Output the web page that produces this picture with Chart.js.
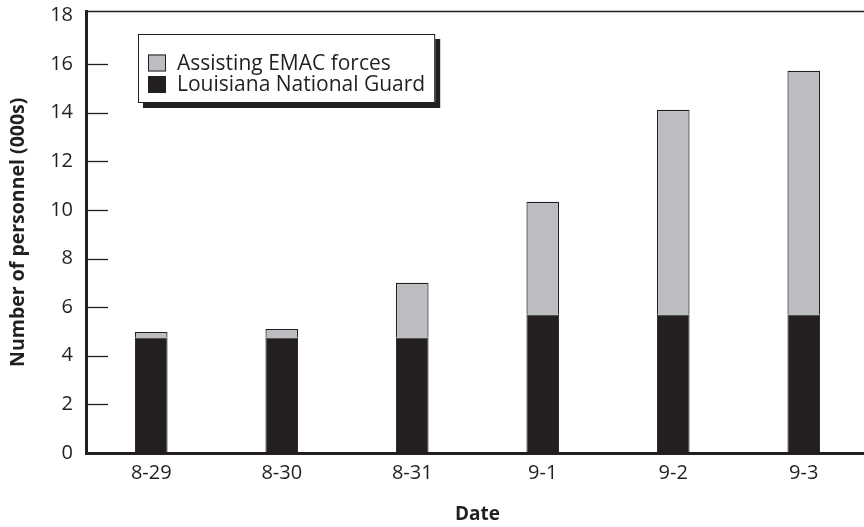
<!DOCTYPE html>
<html>
<head>
<meta charset="utf-8">
<script src="https://cdn.jsdelivr.net/npm/chart.js@4/dist/chart.umd.min.js"></script>
<style>
  html, body { margin: 0; padding: 0; background: #fff; overflow: hidden; }
  #wrap { width: 872px; height: 527px; }
</style>
</head>
<body>
<div id="wrap"><canvas id="chart" width="872" height="527"></canvas></div>
<script>
// data (thousands of personnel)
const dates = ['8-29', '8-30', '8-31', '9-1', '9-2', '9-3'];
const guard = [4.75, 4.75, 4.75, 5.7, 5.7, 5.7];
const emac = [0.23, 0.35, 2.25, 4.63, 8.42, 10.02];
const yTicks = [0, 2, 4, 6, 8, 10, 12, 14, 16, 18];

const ink = '#231f20';
const grey = '#bcbdc0';
const fontFamily = "'Open Sans', 'Noto Sans', sans-serif";

// short inward tick marks, top frame line and boxed legend
const framePlugin = {
  id: 'frame',
  afterDraw(chart) {
    const ctx = chart.ctx;
    const area = chart.chartArea;
    const y = chart.scales.y;
    ctx.save();
    ctx.strokeStyle = ink;

    ctx.lineWidth = 1.5;
    ctx.beginPath();
    ctx.moveTo(area.left, area.top);
    ctx.lineTo(area.right, area.top);
    ctx.stroke();

    ctx.lineWidth = 1.3;
    yTicks.forEach(v => {
      if (v === 0 || v === 18) return;
      const py = Math.round(y.getPixelForValue(v)) + 0.5;
      ctx.beginPath();
      ctx.moveTo(area.left, py);
      ctx.lineTo(area.left + 22, py);
      ctx.stroke();
    });

    // legend, top series first
    const items = chart.data.datasets.slice().reverse();
    ctx.font = '21px ' + fontFamily;
    let textW = 0;
    items.forEach(d => { textW = Math.max(textW, ctx.measureText(d.label).width); });
    const bx = area.left + 52;
    const by = area.top + 22.5;
    const bw = 39 + textW + 10;
    const bh = 69;
    ctx.fillStyle = ink;
    ctx.fillRect(bx + 5, by + 5, bw, bh);
    ctx.fillStyle = '#fff';
    ctx.fillRect(bx, by, bw, bh);
    ctx.lineWidth = 1;
    ctx.strokeRect(bx + 0.5, by + 0.5, bw - 1, bh - 1);

    items.forEach((d, i) => {
      const cy = by + 29 + i * 21.5;
      ctx.fillStyle = d.backgroundColor;
      ctx.fillRect(bx + 10, cy - 8.5, 18, 17);
      ctx.lineWidth = 1;
      ctx.strokeRect(bx + 10.5, cy - 8, 17, 16);
      ctx.fillStyle = ink;
      ctx.textAlign = 'left';
      ctx.textBaseline = 'middle';
      ctx.fillText(d.label, bx + 39, cy + 1);
    });
    ctx.restore();
  }
};

new Chart(document.getElementById('chart'), {
  type: 'bar',
  data: {
    labels: dates,
    datasets: [
      {
        label: 'Louisiana National Guard',
        data: guard,
        backgroundColor: ink,
        borderColor: ink,
        borderWidth: 1
      },
      {
        label: 'Assisting EMAC forces',
        data: emac,
        backgroundColor: grey,
        borderColor: ink,
        borderWidth: 1.2
      }
    ]
  },
  options: {
    responsive: false,
    animation: false,
    layout: { padding: { top: 11.5, right: 3, left: 0, bottom: 0 } },
    datasets: {
      bar: { categoryPercentage: 1, barPercentage: 0.25 }
    },
    plugins: {
      legend: { display: false },
      tooltip: { enabled: false }
    },
    scales: {
      x: {
        stacked: true,
        offset: true,
        grid: { display: false, drawTicks: false },
        border: { display: true, color: ink, width: 3 },
        ticks: { color: ink, padding: 8, font: { family: fontFamily, size: 20 } },
        title: {
          display: true,
          text: 'Date',
          color: ink,
          padding: { top: 0, bottom: 0.6 },
          font: { family: fontFamily, size: 19, weight: 'bold' }
        },
        afterFit(scale) { scale.height = 74; }
      },
      y: {
        stacked: true,
        min: 0,
        max: 18.16,
        grid: { display: false, drawTicks: false },
        border: { display: true, color: ink, width: 3 },
        ticks: { color: ink, padding: 13, font: { family: fontFamily, size: 20 } },
        afterBuildTicks(scale) { scale.ticks = yTicks.map(v => ({ value: v })); },
        title: {
          display: true,
          text: 'Number of personnel (000s)',
          color: ink,
          padding: { top: 6.6, bottom: 0 },
          font: { family: fontFamily, size: 19.5, weight: 'bold' }
        },
        afterFit(scale) {
          scale.width = 86;
          scale.paddingTop = 0;
          scale.paddingBottom = 0;
        }
      }
    }
  },
  plugins: [framePlugin]
});
</script>
</body>
</html>
